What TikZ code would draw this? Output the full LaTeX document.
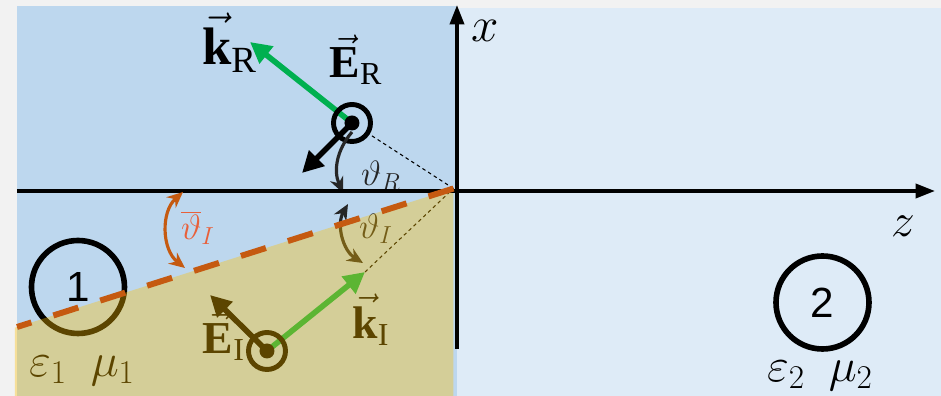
\documentclass[tikz,border=0pt]{standalone}
\usepackage{fix-cm}
\usepackage{fontspec}
\setmainfont{Liberation Serif}
\newfontfamily\numfont{Liberation Sans}
\usetikzlibrary{arrows.meta}
\definecolor{bgray}{HTML}{F2F2F2}
\definecolor{medone}{HTML}{BDD7EE}
\definecolor{medtwo}{HTML}{DEEBF7}
\definecolor{gold}{HTML}{FFC000}
\definecolor{rust}{HTML}{C55A11}
\definecolor{salmon}{HTML}{E8603A}
\definecolor{kgreen}{HTML}{00B050}
\definecolor{dgray}{HTML}{262626}

\begin{document}
\begin{tikzpicture}[font=\fontsize{24}{28}\selectfont,>=Stealth,
axis/.style={line width=2pt,-{Triangle[length=11pt,width=8pt]}},
vecarr/.style={line width=3.2pt,-{Triangle[length=12pt,width=12pt]}},
wave/.style={draw,circle,line width=2.8pt,minimum size=7.4mm,inner sep=0},
medium/.style={draw,circle,line width=3.2pt,minimum size=18.6mm,inner sep=0,font=\fontsize{24}{28}\numfont},
angarc/.style={line width=1.8pt,{Stealth[length=9pt,width=8pt]}-{Stealth[length=9pt,width=8pt]}},
guide/.style={line width=0.6pt,dash pattern=on 2pt off 1.8pt},
lab/.style={inner sep=0.5pt},
anglab/.style={lab,font=\fontsize{20}{24}\selectfont}]
\useasboundingbox (-9.14,-4.10) rectangle (9.68,3.82);
\fill[bgray] (-9.14,-4.10) rectangle (9.68,3.82); \fill[medone] (-8.80,-4.10) rectangle (0,3.70); \fill[medtwo] (0,-4.10) rectangle (9.68,3.66);
\coordinate (O) at (0,0); \coordinate (V) at (-0.07,0.05); \coordinate (L) at (-8.80,-2.72);
\node[medium] (m1) at (-7.58,-1.92){1}; \node[medium] (m2) at (7.31,-2.23){2};
\node[lab,font=\fontsize{27}{30}\selectfont] (p1) at (-7.50,-3.60){$\varepsilon_1\ \ \mu_1$}; \node[lab,font=\fontsize{27}{30}\selectfont] (p2) at (7.26,-3.70){$\varepsilon_2\ \ \mu_2$};
\coordinate (rc) at (-2.10,1.36); \coordinate (kRt) at (-4.14,2.98); \coordinate (ERt) at (-3.10,0.36);
\draw[vecarr,kgreen] (rc) -- (kRt); \draw[vecarr] (rc) -- (ERt);
\node[wave] (ER) at (rc){}; \fill (ER.center) circle (1.5mm); \draw[guide] (V) -- (ER);
\coordinate (ic) at (-3.80,-3.20); \coordinate (kIt) at (-1.84,-1.62); \coordinate (EIt) at (-4.94,-2.08);
\draw[vecarr,kgreen] (ic) -- (kIt); \draw[vecarr] (ic) -- (EIt);
\node[wave] (EI) at (ic){}; \fill (EI.center) circle (1.5mm); \draw[guide] (kIt) -- (V);
\node[lab,font=\fontsize{30}{34}\selectfont] (kRl) at (-4.55,2.96){$\vec{\mathbf{k}}_{\mathrm{R}}$}; \node[lab,font=\fontsize{26}{30}\selectfont] (ERl) at (-2.02,2.62){$\vec{\mathbf{E}}_{\mathrm{R}}$};
\node[lab,font=\fontsize{26}{30}\selectfont] (EIl) at (-4.66,-2.90){$\vec{\mathbf{E}}_{\mathrm{I}}$}; \node[lab,font=\fontsize{26}{30}\selectfont] (kIl) at (-1.72,-2.58){$\vec{\mathbf{k}}_{\mathrm{I}}$};
\draw[dgray,line width=1.8pt,-{Stealth[length=9pt,width=8pt]}] (-2.10,1.18) to[bend right=32] (-2.28,-0.04);
\draw[dgray,angarc] (-2.18,-0.26) to[bend right=44] (-1.88,-1.44);
\node[anglab,dgray] (thR) at (-1.52,0.30){$\vartheta_R$}; \node[anglab,dgray] (thI) at (-1.62,-0.76){$\vartheta_I$};
\fill[gold,opacity=0.36] (-8.84,-2.733) -- (V) -- (-0.07,-4.10) -- (-8.84,-4.10) -- cycle;
\coordinate (zs) at (-8.80,0); \coordinate (ze) at (9.56,0); \coordinate (xs) at (0,-3.16); \coordinate (xe) at (0,3.72);
\draw[axis] (zs) -- (ze); \draw[axis] (xs) -- (xe);
\node[lab,font=\fontsize{28}{32}\selectfont] (xl) at (0.56,3.20){$x$}; \node[lab,font=\fontsize{27}{30}\selectfont] (zl) at (8.92,-0.70){$z$};
\draw[rust,line width=3.4pt,dash pattern=on 14.9pt off 13.1pt] (V) -- (L);
\draw[rust,angarc] (-5.48,-0.02) to[bend right=50] (-5.44,-1.54);
\node[anglab,salmon] (thIbar) at (-5.18,-0.74){$\overline{\vartheta}_I$};
\end{tikzpicture}
\end{document}
